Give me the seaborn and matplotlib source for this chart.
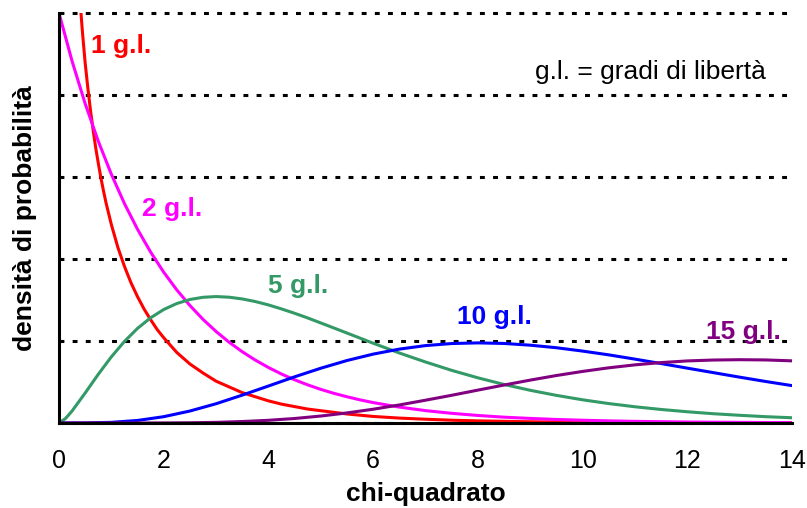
import matplotlib
matplotlib.use("Agg")
import matplotlib.pyplot as plt
import numpy as np
import pandas as pd
import seaborn as sns

# densities, one list per curve
x_df1 = [0.35, 0.4, 0.45, 0.5, 0.55, 0.6, 0.65, 0.7, 0.75, 0.8,
         0.85, 0.9, 0.95, 1.0, 1.125, 1.25, 1.375, 1.5, 1.625, 1.75,
         1.875, 2, 2.25, 2.5, 2.75, 3, 3.25, 3.5, 3.75, 4,
         4.25, 4.5, 4.75, 5, 5.5, 6, 6.5, 7, 7.5, 8,
         9, 10, 11, 12, 13, 14]
y_df1 = [0.566, 0.516, 0.475, 0.439, 0.409, 0.382, 0.358, 0.336, 0.317, 0.299,
         0.283, 0.268, 0.255, 0.242, 0.214, 0.191, 0.171, 0.154, 0.139, 0.126,
         0.114, 0.104, 0.086, 0.072, 0.061, 0.051, 0.044, 0.037, 0.032, 0.027,
         0.023, 0.020, 0.017, 0.015, 0.011, 0.008, 0.006, 0.0046, 0.0034, 0.0026,
         0.0015, 0.0009, 0.0005, 0.0003, 0.0002, 0.0001]

x_fine = [0, 0.25, 0.5, 0.75, 1, 1.25, 1.5, 1.75, 2, 2.25, 2.5, 2.75, 3, 3.25, 3.5,
          3.75, 4, 4.25, 4.5, 4.75, 5, 5.25, 5.5, 5.75, 6,
          6.5, 7, 7.5, 8, 8.5, 9, 9.5, 10, 10.5, 11, 11.5, 12, 12.5, 13, 13.5, 14]
y_df2 = [0.500, 0.4412, 0.3894, 0.3437, 0.3033, 0.2676, 0.2362, 0.2084, 0.1839,
         0.1623, 0.1433, 0.1264, 0.1116, 0.0985, 0.0869, 0.0767, 0.0677,
         0.0597, 0.0527, 0.0465, 0.0410, 0.0362, 0.0320, 0.0282, 0.0249,
         0.0194, 0.0151, 0.0118, 0.0092, 0.0071, 0.0056, 0.0043, 0.0034,
         0.0026, 0.0020, 0.0016, 0.0012, 0.0010, 0.0008, 0.0006, 0.0005]

x_df5 = [0, 0.125] + x_fine[1:]
y_df5 = [0.0, 0.0055, 0.0147, 0.0366, 0.0594, 0.0807, 0.0995, 0.1154, 0.1283, 0.1384,
         0.1457, 0.1506, 0.1533, 0.1542, 0.1534, 0.1513, 0.1481, 0.1440,
         0.1391, 0.1338, 0.1281, 0.1220, 0.1159, 0.1097, 0.1035, 0.0973,
         0.0854, 0.0744, 0.0642, 0.0551, 0.0470, 0.0399, 0.0337, 0.0283,
         0.0237, 0.0198, 0.0165, 0.0137, 0.0113, 0.0094, 0.0077, 0.0064]

x_half = [0, 0.5, 1, 1.5, 2, 2.5, 3, 3.5, 4, 4.5, 5, 5.5, 6, 6.5, 7, 7.5, 8, 8.5, 9,
          9.5, 10, 10.5, 11, 11.5, 12, 12.5, 13, 13.5, 14]
y_df10 = [0.0, 0.0001, 0.0008, 0.0031, 0.0077, 0.0146, 0.0235, 0.0340, 0.0451, 0.0563,
          0.0668, 0.0762, 0.0840, 0.0901, 0.0944, 0.0969, 0.0977, 0.0970, 0.0949, 0.0918,
          0.0877, 0.0831, 0.0779, 0.0725, 0.0669, 0.0614, 0.0559, 0.0506, 0.0456]
y_df15 = [0.0, 0.0, 0.0, 0.0, 0.0001, 0.0003, 0.0008, 0.0018, 0.0033, 0.0055, 0.0085,
          0.0123, 0.0168, 0.0220, 0.0278, 0.0338, 0.0401, 0.0463, 0.0523, 0.0579, 0.0629,
          0.0673, 0.0709, 0.0737, 0.0757, 0.0768, 0.0772, 0.0769, 0.0758]

curve_names = ["1 g.l.", "2 g.l.", "5 g.l.", "10 g.l.", "15 g.l."]
curve_colors = ["#ff0000", "#ff00ff", "#339966", "#0000ff", "#800080"]
label_x = [1.19, 2.16, 4.56, 8.32, 13.07]
label_y = [0.451, 0.252, 0.159, 0.121, 0.102]

frames = []
for name, xs, ys in zip(curve_names,
                        [x_df1, x_fine, x_df5, x_half, x_half],
                        [y_df1, y_df2, y_df5, y_df10, y_df15]):
    frames.append(pd.DataFrame({"chi": xs, "dens": ys, "gl": name}))
df = pd.concat(frames, ignore_index=True)

sns.set_style("white")
plt.rcParams["font.family"] = ["Liberation Sans", "DejaVu Sans"]
plt.rcParams["text.color"] = "black"
plt.rcParams["axes.labelcolor"] = "black"
plt.rcParams["xtick.color"] = "black"
plt.rcParams["ytick.color"] = "black"

fig = plt.figure(figsize=(8.07, 5.08), dpi=100)
ax = fig.add_axes([59 / 807, 85 / 508, 733 / 807, 410 / 508])

sns.lineplot(data=df, x="chi", y="dens", hue="gl", hue_order=curve_names,
             palette=dict(zip(curve_names, curve_colors)), estimator=None,
             sort=False, linewidth=2.2, legend=False, ax=ax,
             solid_joinstyle="round", solid_capstyle="round")

ax.set_xlim(0, 14)
ax.set_ylim(0, 0.5)
ax.set_xticks(np.arange(0, 15, 2))
ax.set_yticks(np.arange(0, 0.51, 0.1))
ax.set_yticklabels([])
ax.tick_params(axis="x", direction="out", length=7, width=2, labelsize=18, pad=12,
               labelcolor="black", color="black")
ax.tick_params(axis="y", direction="out", length=7, width=2, color="black")
ax.yaxis.grid(True, color="black", linewidth=2.2, linestyle=(0, (1.6, 2.7)))
for gl in ax.get_ygridlines():
    gl.set_clip_on(False)
    gl.set_dash_capstyle("butt")
ax.xaxis.grid(False)

for side in ["top", "right"]:
    ax.spines[side].set_visible(False)
for side in ["left", "bottom"]:
    ax.spines[side].set_linewidth(2.2)
    ax.spines[side].set_color("black")

ax.set_xlabel("chi-quadrato", fontsize=19, fontweight="bold", labelpad=6,
              color="black")
ax.set_ylabel("densità di probabilità", fontsize=19, fontweight="bold", labelpad=5,
              color="black")

for name, col, lx, ly in zip(curve_names, curve_colors, label_x, label_y):
    ax.text(lx, ly, name, color=col, fontsize=19, fontweight="bold",
            ha="center", va="baseline")
ax.text(9.09, 0.428, "g.l. = gradi di libertà", fontsize=19, color="black",
        ha="left", va="center")

fig.savefig("out.png", dpi=100)
